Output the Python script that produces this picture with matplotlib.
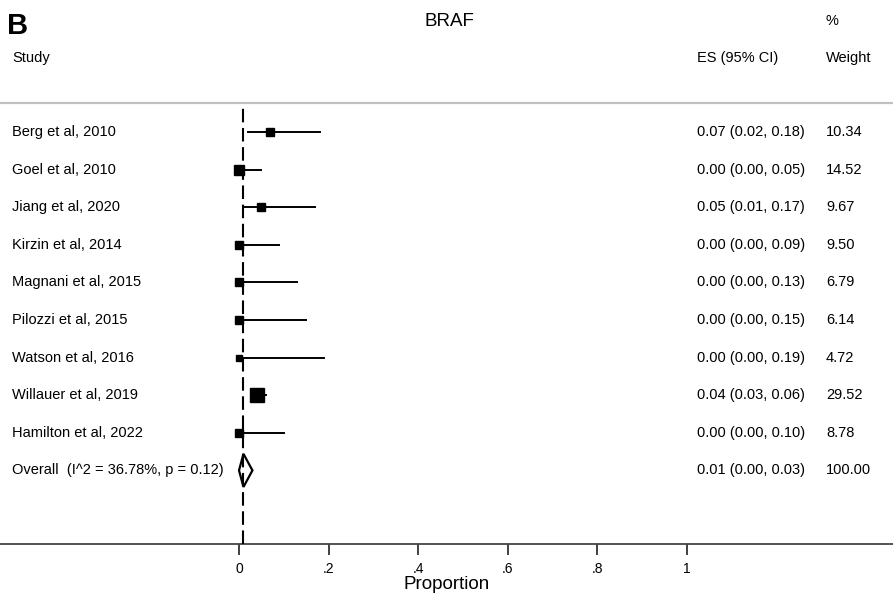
import matplotlib
matplotlib.use("Agg")
import matplotlib.pyplot as plt
from matplotlib.patches import Polygon
from matplotlib.transforms import blended_transform_factory

plt.rcParams['font.family'] = ['Liberation Sans', 'DejaVu Sans']

studies = ["Berg et al, 2010", "Goel et al, 2010", "Jiang et al, 2020", "Kirzin et al, 2014",
           "Magnani et al, 2015", "Pilozzi et al, 2015", "Watson et al, 2016",
           "Willauer et al, 2019", "Hamilton et al, 2022"]
es = [0.07, 0.00, 0.05, 0.00, 0.00, 0.00, 0.00, 0.04, 0.00]
lo = [0.02, 0.00, 0.01, 0.00, 0.00, 0.00, 0.00, 0.03, 0.00]
hi = [0.18, 0.05, 0.17, 0.09, 0.13, 0.15, 0.19, 0.06, 0.10]
weights = [10.34, 14.52, 9.67, 9.50, 6.79, 6.14, 4.72, 29.52, 8.78]
overall_label = "Overall  (I^2 = 36.78%, p = 0.12)"
overall_es, overall_lo, overall_hi = 0.01, 0.00, 0.03
overall_weight = "100.00"
xticks = [0, 0.2, 0.4, 0.6, 0.8, 1.0]
xticklabels = ["0", ".2", ".4", ".6", ".8", "1"]

W, H = 893, 598
fig = plt.figure(figsize=(W / 100, H / 100), dpi=100)
axis_px = 544
ax = fig.add_axes([0, (H - axis_px) / H, 1, axis_px / H])

x0_px, x1_px = 239, 687
scale = x1_px - x0_px
ax.set_xlim(-x0_px / scale, (W - x0_px) / scale)
row0_px, dy = 132, 37.6
ax.set_ylim((axis_px - row0_px) / dy, -row0_px / dy)

for s in ["top", "left", "right"]:
    ax.spines[s].set_visible(False)
ax.spines["bottom"].set_color("#444444")
ax.spines["bottom"].set_linewidth(1.3)
ax.set_yticks([])
ax.set_xticks(xticks)
ax.set_xticklabels(xticklabels, fontsize=10)
ax.tick_params(axis="x", direction="out", length=8, width=1.3, color="#333333", pad=5)
ax.set_xlabel("Proportion", fontsize=13.5, labelpad=0)

# separator line
ax.axhline((103 - row0_px) / dy, color="#c0c0c0", lw=1.6)

# dashed overall line (drawn from the axis upwards)
ax.plot([overall_es, overall_es], [(axis_px - row0_px) / dy, (104 - row0_px) / dy],
        color="black", lw=1.5, dashes=(6.5, 2.7), zorder=5)

for i, (e, l, h, w) in enumerate(zip(es, lo, hi, weights)):
    ax.plot([l, h], [i, i], color="black", lw=1.4, zorder=2)
    side_px = 2.5 + 2.0 * w ** 0.5
    ax.plot([e], [i], marker="s", color="black", markersize=side_px * 0.72, zorder=3)

n = len(studies)
hh = 0.44
diamond = Polygon([[overall_lo, n], [overall_es, n - hh], [overall_hi, n], [overall_es, n + hh]],
                  closed=True, facecolor="white", edgecolor="black", lw=1.6, zorder=4)
ax.add_patch(diamond)

tr = blended_transform_factory(fig.transFigure, ax.transData)
fs = 10.5
for i, s in enumerate(studies):
    ax.text(12 / W, i, s, transform=tr, fontsize=fs, va="center", ha="left")
    ax.text(697 / W, i, f"{es[i]:.2f} ({lo[i]:.2f}, {hi[i]:.2f})", transform=tr,
            fontsize=fs, va="center", ha="left")
    ax.text(826 / W, i, f"{weights[i]:.2f}", transform=tr, fontsize=fs, va="center", ha="left")
ax.text(12 / W, n, overall_label, transform=tr, fontsize=fs, va="center", ha="left")
ax.text(697 / W, n, f"{overall_es:.2f} ({overall_lo:.2f}, {overall_hi:.2f})", transform=tr,
        fontsize=fs, va="center", ha="left")
ax.text(826 / W, n, overall_weight, transform=tr, fontsize=fs, va="center", ha="left")

# headers
fig.text(7 / W, 1 - 26 / H, "B", fontsize=21, fontweight="bold", va="center", ha="left")
fig.text(449 / W, 1 - 21 / H, "BRAF", fontsize=13.5, va="center", ha="center")
fig.text(12 / W, 1 - 58 / H, "Study", fontsize=fs, va="center", ha="left")
fig.text(697 / W, 1 - 58 / H, "ES (95% CI)", fontsize=fs, va="center", ha="left")
fig.text(826 / W, 1 - 58 / H, "Weight", fontsize=fs, va="center", ha="left")
fig.text(826 / W, 1 - 21 / H, "%", fontsize=fs, va="center", ha="left")

fig.savefig("out.png", dpi=100, facecolor="white")
